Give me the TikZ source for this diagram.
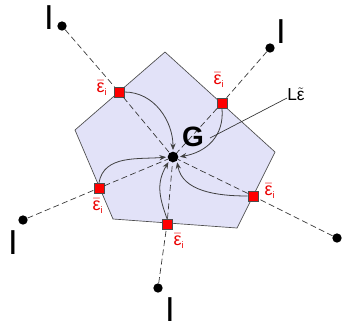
\documentclass[tikz,border=0pt]{standalone}
\usepackage{amsmath}
\usepackage{fontspec}
\setmainfont{Liberation Sans}
\usetikzlibrary{arrows.meta}
\definecolor{pentfill}{RGB}{226,226,248}
\definecolor{epsred}{RGB}{235,0,0}
\newcommand{\epsb}{$\bar{\text{ε}}_{\text{\scriptsize i}}$}
\begin{document}
\begin{tikzpicture}[x=0.75pt,y=-0.75pt,
  sq/.style={draw=black!70,fill=red,minimum size=7.5pt,inner sep=0pt,line width=0.5pt},
  dot/.style={circle,fill=black,minimum size=7pt,inner sep=0pt},
  dsh/.style={dash pattern=on 4.5pt off 2.5pt,line width=0.5pt,draw=black!80},
  crv/.style={line width=0.6pt,draw=black!75,-{Stealth[length=5pt,width=4pt]},shorten >=1pt},
  lbl/.style={text=epsred,font=\fontsize{13.5}{14}\selectfont,inner sep=0pt},
  bar/.style={font=\fontsize{26}{26}\selectfont,inner sep=0pt}]
\useasboundingbox (0,0) rectangle (345,329);
\fill[pentfill,draw=black!70,line width=0.5pt] (165,52) -- (275,152) -- (237,228) -- (113,219) -- (75,130) -- cycle;
\node[dot,minimum size=8pt] (C) at (173,157) {};
% squares and dots
\node[sq] (s1) at (119,92) {};
\node[sq] (s2) at (222,103) {};
\node[sq] (s3) at (253,196) {};
\node[sq] (s4) at (167,224) {};
\node[sq] (s5) at (99,188) {};
\node[dot] (d1) at (62,26) {};
\node[dot] (d2) at (270,48) {};
\node[dot] (d3) at (337,238) {};
\node[dot] (d4) at (158,288) {};
\node[dot] (d5) at (23,220) {};
% dashed lines
\foreach \i in {1,...,5}{
  \draw[dsh] (d\i) -- (s\i);
  \draw[dsh] (s\i) -- (C);
}
% curves
\draw[crv] (s1.east) to[out=0,in=90] (C.north);
\draw[crv] (s2.south) to[out=-85,in=10,looseness=1.1] (C.east);
\draw[crv] (s3.west) to[out=180,in=-80] (C.south east);
\draw[crv] (s4.north) to[out=110,in=-120,looseness=1.1] (C.south west);
\draw[crv] (s5.north) to[out=80,in=185] (C.west);
% labels
\node[lbl] (e1) at (102,88) {\epsb};
\node[lbl] (e2) at (219,80) {\epsb};
\node[lbl] (e3) at (270,191) {\epsb};
\node[lbl] (e4) at (98,206) {\epsb};
\node[lbl] (e5) at (179,241) {\epsb};
\node[font=\bfseries\fontsize{21}{21}\selectfont,inner sep=0pt] (G) at (193,137) {G};
\node[font=\fontsize{13}{13}\selectfont,inner sep=0pt,anchor=west] (L) at (287,94) {L$\tilde{\text{ε}}$};
\coordinate (Lend) at (210,138);
\draw[line width=0.5pt,black!80] (L.west) ++(0,4) -- (Lend);
\node[bar] (b1) at (49,18) {I};
\node[bar] (b2) at (281,32) {I};
\node[bar] (b3) at (13,243) {I};
\node[bar] (b4) at (170,310) {I};
\end{tikzpicture}
\end{document}
